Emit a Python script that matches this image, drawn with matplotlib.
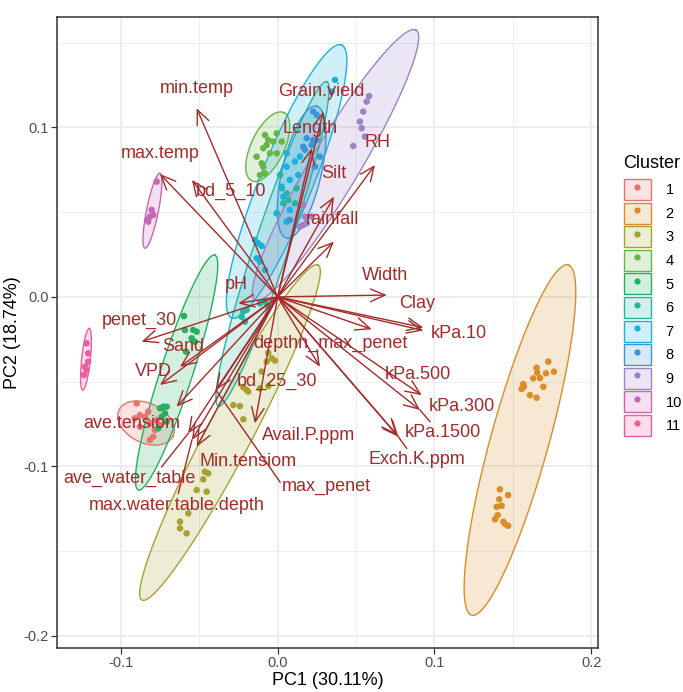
import numpy as np
import matplotlib
matplotlib.use('Agg')
import matplotlib.pyplot as plt
from matplotlib.patches import Patch
from matplotlib.lines import Line2D
from matplotlib.legend_handler import HandlerTuple

plt.rcParams['font.family'] = ['Liberation Sans', 'DejaVu Sans']

# ---- PCA scores of the sites, one pair of lists per cluster ----
c1_pc1 = [-0.0900, -0.0879, -0.0911, -0.0847, -0.0826, -0.0815, -0.0772, -0.0783, -0.0815, -0.0794, -0.0879, -0.0751]
c1_pc2 = [-0.0628, -0.0697, -0.0716, -0.0707, -0.0677, -0.0746, -0.0726, -0.0785, -0.0844, -0.0825, -0.0766, -0.0756]

c2_pc1 = [0.1727, 0.1652, 0.1656, 0.1712, 0.1763, 0.1631, 0.1567, 0.1557, 0.1571, 0.1695, 0.1610, 0.1652, 0.1674,
          0.1418, 0.1471, 0.1414, 0.1429, 0.1398, 0.1404, 0.1387, 0.1440, 0.1471, 0.1451]
c2_pc2 = [-0.0382, -0.0418, -0.0447, -0.0451, -0.0441, -0.0480, -0.0514, -0.0543, -0.0530, -0.0530, -0.0579, -0.0595, -0.0479,
          -0.1135, -0.1169, -0.1194, -0.1232, -0.1238, -0.1287, -0.1312, -0.1326, -0.1350, -0.1340]

c3_pc1 = [-0.0060, -0.0070, -0.0038, -0.0017, -0.0102, -0.0060, -0.0113, -0.0219, -0.0198, -0.0188, -0.0283, -0.0241,
          -0.0219, -0.0464, -0.0443, -0.0475, -0.0517, -0.0453, -0.0570, -0.0623, -0.0581, -0.0623]
c3_pc2 = [-0.0329, -0.0382, -0.0362, -0.0376, -0.0441, -0.0526, -0.0539, -0.0533, -0.0549, -0.0559, -0.0638, -0.0644,
          -0.0722, -0.1031, -0.1041, -0.1076, -0.1139, -0.1149, -0.1277, -0.1326, -0.1395, -0.1365]

c4_pc1 = [-0.0081, -0.0060, -0.0070, -0.0006, 0.0026, -0.0028, -0.0134, -0.0092, -0.0049, -0.0006, -0.0102, -0.0092, -0.0113, -0.0081]
c4_pc2 = [0.0955, 0.0926, 0.0896, 0.0965, 0.0916, 0.0916, 0.0827, 0.0877, 0.0847, 0.0847, 0.0788, 0.0768, 0.0719, 0.0729]

c5_pc1 = [-0.0598, -0.0592, -0.0539, -0.0517, -0.0549, -0.0528, -0.0585, -0.0730, -0.0751, -0.0708, -0.0719, -0.0740, -0.0708, -0.0762]
c5_pc2 = [-0.0113, -0.0195, -0.0195, -0.0205, -0.0244, -0.0264, -0.0323, -0.0648, -0.0657, -0.0648, -0.0687, -0.0707, -0.0736, -0.0775]

c6_pc1 = [0.0015, 0.0026, 0.0057, 0.0068, 0.0110, 0.0121, 0.0036, -0.0006, -0.0220, -0.0198, -0.0230, -0.0209, -0.0113, -0.0081, -0.0060]
c6_pc2 = [0.0719, 0.0641, 0.0611, 0.0572, 0.0552, 0.0641, 0.0552, 0.0493, -0.0087, -0.0077, -0.0117, -0.0146, -0.0038, -0.0028, -0.0058]

c7_pc1 = [0.0366, 0.0345, 0.0057, 0.0110, 0.0057, 0.0142, 0.0131, 0.0078, 0.0026, 0.0036, 0.0078, 0.0057, -0.0006,
          -0.0145, -0.0124, -0.0102, -0.0134, -0.0113, -0.0081]
c7_pc2 = [0.1280, 0.1211, 0.0847, 0.0798, 0.0768, 0.0827, 0.0719, 0.0690, 0.0650, 0.0591, 0.0513, 0.0444, 0.0493,
          0.0336, 0.0316, 0.0300, 0.0228, 0.0208, 0.0159]

c8_pc1 = [0.0227, 0.0249, 0.0185, 0.0227, 0.0217, 0.0249, 0.0163, 0.0270, 0.0238, 0.0078, 0.0174]
c8_pc2 = [0.1093, 0.1073, 0.0936, 0.0926, 0.0896, 0.0926, 0.0886, 0.0827, 0.0768, 0.0454, 0.0867]

c9_pc1 = [0.0568, 0.0546, 0.0525, 0.0536, 0.0557, 0.0482, 0.0583, 0.0163, 0.0174, 0.0142, 0.0163, 0.0217, 0.0185]
c9_pc2 = [0.1152, 0.1093, 0.1034, 0.0995, 0.0945, 0.0890, 0.1185, 0.0542, 0.0473, 0.0414, 0.0424, 0.0473, 0.0434]

c10_pc1 = [-0.0772, -0.0804, -0.0815, -0.0826, -0.0794, -0.0832]
c10_pc2 = [0.0680, 0.0513, 0.0473, 0.0444, 0.0483, 0.0454]

c11_pc1 = [-0.1219, -0.1209, -0.1230, -0.1219, -0.1236, -0.1209]
c11_pc2 = [-0.0274, -0.0333, -0.0412, -0.0431, -0.0461, -0.0382]

scores_x = [c1_pc1, c2_pc1, c3_pc1, c4_pc1, c5_pc1, c6_pc1, c7_pc1, c8_pc1, c9_pc1, c10_pc1, c11_pc1]
scores_y = [c1_pc2, c2_pc2, c3_pc2, c4_pc2, c5_pc2, c6_pc2, c7_pc2, c8_pc2, c9_pc2, c10_pc2, c11_pc2]
clusters = [str(i) for i in range(1, 12)]

# ---- cluster ellipses: centre, half major axis, minor/major ratio ----
ell_cx = [-0.0840, 0.1546, -0.0304, -0.0063, -0.0645, -0.0033, 0.0057, 0.0153, 0.0369, -0.0799, -0.1223]
ell_cy = [-0.0744, -0.0844, -0.0800, 0.0886, -0.0446, 0.0313, 0.0681, 0.0736, 0.0778, 0.0508, -0.0368]
ell_ux = [0.0172, 0.0308, 0.0562, 0.0103, 0.0244, 0.0346, 0.0351, 0.0096, 0.0514, 0.0048, 0.0021]
ell_uy = [-0.0077, 0.1033, 0.0988, 0.0201, 0.0693, 0.0957, 0.0805, 0.0389, 0.0796, 0.0221, 0.0182]
ell_ratio = [0.66, 0.16, 0.12, 0.44, 0.13, 0.10, 0.18, 0.29, 0.155, 0.155, 0.14]

# ---- variable loadings ----
var_names = ['min.temp', 'max.temp', 'bd_5_10', 'Grain.yield', 'Length', 'Silt', 'rainfall', 'RH', 'pH',
             'Width', 'Clay', 'kPa.10', 'depthn_max_penet', 'bd_25_30', 'penet_30', 'Sand', 'VPD',
             'ave.tensiom', 'Avail.P.ppm', 'Min.tensiom', 'ave_water_table', 'max.water.table.depth',
             'max_penet', 'kPa.500', 'kPa.300', 'kPa.1500', 'Exch.K.ppm']
load_pc1 = [-0.0517, -0.0751, -0.0547, 0.0291, 0.0217, 0.0359, 0.0359, 0.0621, -0.0251,
            0.0696, 0.0929, 0.0929, 0.0600, 0.0270, -0.0868, -0.0623, -0.0751,
            -0.0645, -0.0145, -0.0517, -0.0571, -0.0547,
            -0.0394, 0.0919, 0.0908, 0.0770, 0.0762]
load_pc2 = [0.1113, 0.0725, 0.0690, 0.1093, 0.0877, 0.0591, 0.0326, 0.0778, -0.0038,
            0.0011, -0.0181, -0.0198, -0.0191, -0.0412, -0.0264, -0.0412, -0.0520,
            -0.0648, -0.0746, -0.0884, -0.0805, -0.0844,
            -0.0549, -0.0579, -0.0667, -0.0825, -0.0815]

# label placement (repelled labels) and leader segments
label_pos = {
    'min.temp': (-0.0517, 0.1231), 'max.temp': (-0.0751, 0.0847), 'bd_5_10': (-0.0298, 0.0621),
    'Grain.yield': (0.0276, 0.1211), 'Length': (0.0206, 0.0992), 'Silt': (0.0359, 0.0725),
    'rainfall': (0.0347, 0.0454), 'RH': (0.0634, 0.0908), 'pH': (-0.0262, 0.0073),
    'Width': (0.0685, 0.0129), 'Clay': (0.0889, -0.0038), 'kPa.10': (0.1153, -0.0215),
    'depthn_max_penet': (0.0334, -0.0274), 'bd_25_30': (-0.0004, -0.0500), 'penet_30': (-0.0879, -0.0136),
    'Sand': (-0.0602, -0.0294), 'VPD': (-0.0794, -0.0441), 'ave.tensiom': (-0.0932, -0.0746),
    'Avail.P.ppm': (0.0195, -0.0815), 'Min.tensiom': (-0.0188, -0.0972),
    'ave_water_table': (-0.0943, -0.1070), 'max.water.table.depth': (-0.0645, -0.1228),
    'max_penet': (0.0313, -0.1120), 'kPa.500': (0.0897, -0.0455), 'kPa.300': (0.1174, -0.0644),
    'kPa.1500': (0.1057, -0.0799), 'Exch.K.ppm': (0.0887, -0.0962),
}
segment_end = {
    'ave_water_table': (-0.0740, -0.1002), 'max.water.table.depth': (-0.0634, -0.1159),
    'max_penet': (0.0015, -0.1092), 'kPa.300': (0.0972, -0.0736), 'Exch.K.ppm': (0.0823, -0.0893),
}

colors = ['#E8746E', '#D98C28', '#A9A031', '#67B545', '#25AF5F', '#26B6A0',
          '#1AB2DC', '#3C95D6', '#9D82C4', '#C667B5', '#E95F9E']
arrow_col = '#A52A2A'

fig = plt.figure(figsize=(6.83, 6.92), dpi=100)
ax = fig.add_axes([57 / 683, 1 - 648 / 692, (598 - 57) / 683, (648 - 17) / 692])
ax.set_xlim(-0.1408, 0.2044)
ax.set_ylim(-0.2071, 0.1651)

# theme_bw look
ax.set_facecolor('white')
for v in [-0.05, 0.05, 0.15]:
    ax.axvline(v, color='#EBEBEB', lw=0.6, zorder=0)
for v in [-0.15, -0.05, 0.05, 0.15]:
    ax.axhline(v, color='#EBEBEB', lw=0.6, zorder=0)
for v in [-0.1, 0.0, 0.1, 0.2]:
    ax.axvline(v, color='#EBEBEB', lw=1.2, zorder=0)
for v in [-0.2, -0.1, 0.0, 0.1]:
    ax.axhline(v, color='#EBEBEB', lw=1.2, zorder=0)
for s in ax.spines.values():
    s.set_color('#333333')
    s.set_linewidth(1.1)


def ellipse_path(cx, cy, ux, uy, ratio, n=240):
    T = ax.transData
    c = T.transform((cx, cy))
    u = T.transform((cx + ux, cy + uy)) - c
    v = np.array([-u[1], u[0]]) * ratio
    t = np.linspace(0, 2 * np.pi, n)
    pts = c + np.outer(np.cos(t), u) + np.outer(np.sin(t), v)
    return T.inverted().transform(pts)


for i in range(len(clusters)):
    p = ellipse_path(ell_cx[i], ell_cy[i], ell_ux[i], ell_uy[i], ell_ratio[i])
    ax.fill(p[:, 0], p[:, 1], facecolor=colors[i], alpha=0.2, edgecolor='none', zorder=1)
    ax.plot(p[:, 0], p[:, 1], color=colors[i], lw=1.0, zorder=2)

for i in range(len(clusters)):
    ax.scatter(scores_x[i], scores_y[i], s=22, color=colors[i], edgecolors='none', zorder=3)

# loading arrows
for name, lx, ly in zip(var_names, load_pc1, load_pc2):
    ax.annotate('', xy=(lx, ly), xytext=(0, 0),
                arrowprops=dict(arrowstyle='->,head_length=0.8,head_width=0.35', color=arrow_col,
                                lw=1.0, shrinkA=0, shrinkB=0, mutation_scale=13), zorder=4)
    if name in segment_end:
        ex, ey = segment_end[name]
        ax.plot([lx, ex], [ly, ey], color=arrow_col, lw=1.0, zorder=4)
    tx, ty = label_pos[name]
    ax.text(tx, ty, name, color=arrow_col, fontsize=13, ha='center', va='center', zorder=5)

ax.set_xticks([-0.1, 0.0, 0.1, 0.2])
ax.set_xticklabels(['-0.1', '0.0', '0.1', '0.2'])
ax.set_yticks([-0.2, -0.1, 0.0, 0.1])
ax.set_yticklabels(['-0.2', '-0.1', '0.0', '0.1'])
ax.tick_params(colors='#333333', labelcolor='#4D4D4D', labelsize=10.5, length=4, width=0.9, pad=2)
ax.set_xlabel('PC1 (30.11%)', fontsize=13, labelpad=1)
ax.set_ylabel('PC2 (18.74%)', fontsize=13, labelpad=2)

# legend
handles = []
for c in colors:
    handles.append((Patch(facecolor=matplotlib.colors.to_rgba(c, 0.2), edgecolor=c, lw=1.0),
                    Line2D([], [], marker='o', ls='', color=c, markersize=4.5, markeredgewidth=0)))
fig.text(623 / 683, 1 - 163 / 692, 'Cluster', fontsize=13, ha='left', va='center')
ax.legend(handles, clusters, handler_map={tuple: HandlerTuple(ndivide=1)},
          loc='upper left', bbox_to_anchor=(624 / 683, 1 - 179 / 692), bbox_transform=fig.transFigure,
          frameon=False, fontsize=10.5, handlelength=1.85, handleheight=1.85, labelspacing=0.17,
          handletextpad=1.0, borderpad=0, borderaxespad=0)

fig.savefig('out.png', dpi=100)
